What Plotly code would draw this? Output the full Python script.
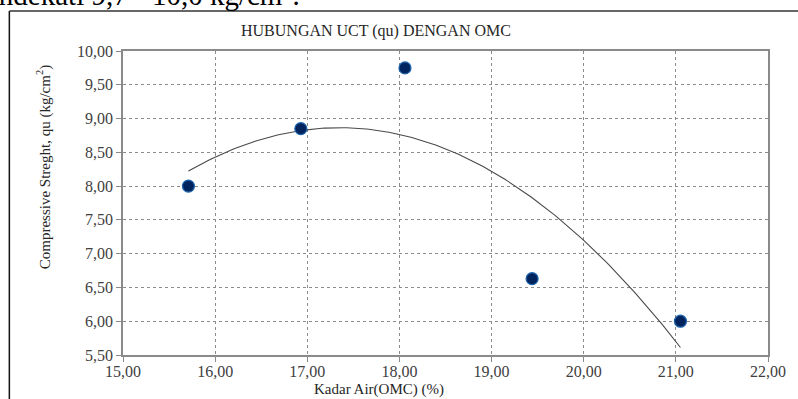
import numpy as np
import plotly.graph_objects as go

# Moisture content (OMC, %) and unconfined compressive strength qu (kg/cm2)
kadar_air = [15.71, 16.93, 18.06, 19.44, 21.05]
qu = [8.00, 8.85, 9.75, 6.63, 6.00]

x_ticks = [15, 16, 17, 18, 19, 20, 21, 22]
x_tick_labels = ["15,00", "16,00", "17,00", "18,00", "19,00", "20,00", "21,00", "22,00"]
y_ticks = [5.5, 6.0, 6.5, 7.0, 7.5, 8.0, 8.5, 9.0, 9.5, 10.0]
y_tick_labels = ["5,50", "6,00", "6,50", "7,00", "7,50", "8,00", "8,50", "9,00", "9,50", "10,00"]

W, H = 798, 399
ML, MR, MT, MB = 123, 28, 51, 44
PW, PH = W - ML - MR, H - MT - MB


def px(xp):
    return (xp - ML) / PW


def py(yp):
    return (H - MB - yp) / PH


# second-order polynomial trendline through the measured points
coef = np.polyfit(kadar_air, qu, 2)
xt = np.linspace(min(kadar_air), max(kadar_air), 200)
yt = np.polyval(coef, xt)

SERIF = "Liberation Serif"
AXIS_GREY = "#8a8a8a"
GRID_GREY = "#8c8c8c"
TEXT = "#404040"

fig = go.Figure()
fig.add_trace(go.Scatter(x=xt, y=yt, mode="lines",
                         line=dict(color="#4a4a4a", width=1.1),
                         hoverinfo="skip", showlegend=False))
fig.add_trace(go.Scatter(x=kadar_air, y=qu, mode="markers",
                         marker=dict(size=12, color="#00245e",
                                     line=dict(color="#1c64ad", width=1.2)),
                         showlegend=False))

axis_common = dict(showline=True, linecolor=AXIS_GREY, linewidth=1.6, mirror=True,
                   showgrid=True, gridcolor=GRID_GREY, gridwidth=1, griddash="dot",
                   ticks="outside", ticklen=5, tickcolor=AXIS_GREY, tickwidth=1.4,
                   zeroline=False, tickfont=dict(family=SERIF, size=16, color=TEXT))

fig.update_xaxes(range=[15, 22], tickmode="array", tickvals=x_ticks,
                 ticktext=x_tick_labels, ticklabelstandoff=-4, **axis_common)
fig.update_yaxes(range=[5.5, 10], tickmode="array", tickvals=y_ticks,
                 ticktext=y_tick_labels, **axis_common)

annotations = [
    dict(text="HUBUNGAN UCT (qu) DENGAN OMC", x=px(377), y=py(31),
         font=dict(family=SERIF, size=16, color="#262626")),
    dict(text="Compressive Streght, qu (kg/cm<sup>2</sup>)", x=px(43), y=py(167),
         textangle=-90, font=dict(family=SERIF, size=15, color="#262626")),
    dict(text="Kadar Air(OMC) (%)", x=px(380), y=py(389),
         font=dict(family=SERIF, size=15, color="#262626")),
    dict(text="endekati 9,7 - 10,0 kg/cm<sup>2</sup>.", x=px(303), y=py(13),
         xanchor="right", yanchor="bottom",
         font=dict(family=SERIF, size=29, color="#000000")),
]
for a in annotations:
    a.setdefault("xanchor", "center")
    a.setdefault("yanchor", "middle")
    a.update(xref="paper", yref="paper", showarrow=False)

# frame of the chart object: left edge and top edge
shapes = [
    dict(type="line", xref="paper", yref="paper", x0=px(9), x1=px(9),
         y0=py(11), y1=py(H + 5), line=dict(color="#111111", width=1.5)),
    dict(type="line", xref="paper", yref="paper", x0=px(9), x1=px(W + 5),
         y0=py(11), y1=py(11), line=dict(color="#333333", width=1.3)),
]

fig.update_layout(width=W, height=H, margin=dict(l=ML, r=MR, t=MT, b=MB),
                  paper_bgcolor="white", plot_bgcolor="white",
                  annotations=annotations, shapes=shapes)

fig.write_html("out.html")
